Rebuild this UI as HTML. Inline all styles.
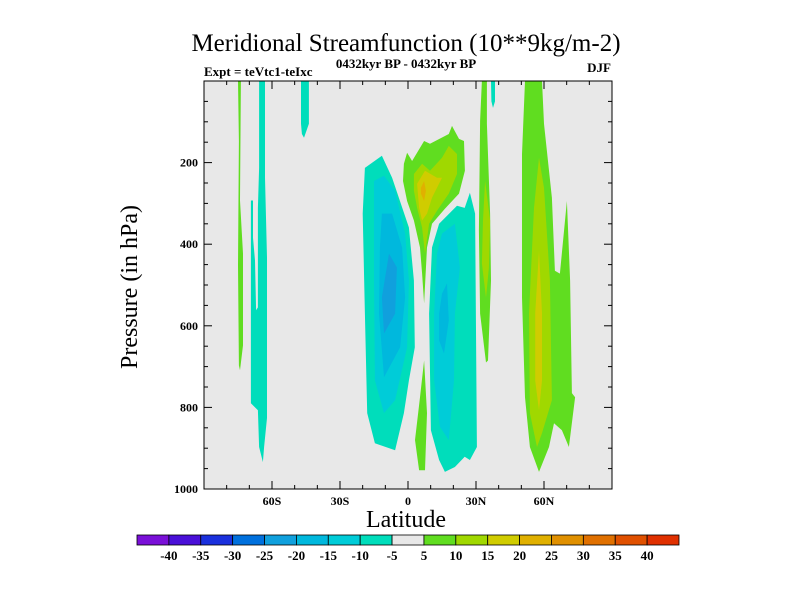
<!DOCTYPE html>
<html><head><meta charset="utf-8"><style>
body{margin:0;background:#fff}
svg{display:block}
text{font-family:"Liberation Serif",serif;fill:#000}
</style></head><body>
<svg id="chart" width="800" height="600" xmlns="http://www.w3.org/2000/svg">
<rect x="0" y="0" width="800" height="600" fill="#fff"/>
<text x="406" y="51" font-size="25" text-anchor="middle">Meridional Streamfunction (10**9kg/m-2)</text>
<text x="406" y="68" font-size="13" font-weight="bold" text-anchor="middle">0432kyr BP - 0432kyr BP</text>
<text x="204" y="76" font-size="13" font-weight="bold">Expt = teVtc1-teIxc</text>
<text x="611" y="72" font-size="13" font-weight="bold" text-anchor="end">DJF</text>
<rect x="204" y="81" width="408" height="408" fill="#e8e8e8"/>
<g id="fills"></g>
<g id="axes"></g>
<text x="406" y="527" font-size="24" text-anchor="middle">Latitude</text>
<text transform="translate(137,287) rotate(-90)" font-size="24" text-anchor="middle">Pressure (in hPa)</text>
<g id="cbar"></g>
</svg>
<script>
// contour levels / colours
const levels=[-40,-35,-30,-25,-20,-15,-10,-5,5,10,15,20,25,30,35,40];
const colors=["#7a10d8","#4a10d8","#1a30dd","#0070dd","#10a0dd","#00b8dd","#00ccd8","#00ddbb","#e8e8e8","#60dd20","#a0d800","#d0cc00","#e0b000","#e09000","#e07000","#e05000","#e03000"];
const xTickVals=[-60,-30,0,30,60];
const xTickLabels=["60S","30S","0","30N","60N"];
const yTickVals=[200,400,600,800,1000];
// contour regions: [colorIndex, [[lat,p],...]]
const regNeg5L=[[-19,213],[-11.5,183],[-7,237],[0.4,359],[2.6,489],[3,653],[0.4,734],[-1.8,814],[-5.7,905],[-14.6,888],[-18,814],[-19,570],[-20,325]];
const regNeg10L=[[-15,245],[-10.6,232],[-5.7,269],[-1.3,374],[0.4,489],[-0.4,653],[-5.7,782],[-10.6,814],[-14.6,734],[-15,489]];
const regNeg15L=[[-11.5,325],[-7,325],[-2.6,408],[-1.3,530],[-3.5,653],[-10.6,726],[-12.8,570],[-12.4,408]];
const regNeg20L=[[-8.4,423],[-4.9,457],[-5.7,570],[-10.6,619],[-11.5,530]];
const regNeg5R=[[13.7,350],[21.6,306],[25,311],[27.3,274],[29.6,325],[30.4,897],[27.3,929],[25,921],[20.7,946],[16.3,958],[13.7,929],[10.1,856],[9.3,570],[10.6,408]];
const regNeg10R=[[15,374],[20.7,350],[22.9,457],[20.7,570],[20.3,734],[18,880],[14.1,848],[11.5,734],[11.5,570],[12.8,423]];
const regNeg15R=[[15,521],[17.2,496],[18,587],[15.9,668],[13.7,636],[13.7,570]];
const regPos5T=[[-1.8,203],[-0.4,176],[1.8,196],[7.1,147],[9.7,154],[18,130],[19.4,110],[22.5,142],[24.7,147],[25.1,220],[22.5,276],[16.3,313],[10.6,350],[8.4,408],[7.1,545],[6.2,472],[5.3,408],[2.6,342],[-0.4,294],[-2.2,245]];
const regPos10T=[[2.6,228],[6.2,203],[9.7,220],[15,188],[18,159],[21.6,179],[21.6,228],[18,276],[12.8,318],[9.3,350],[7.5,423],[6.2,359],[4,311],[2.6,269]];
const regPos15T=[[4,252],[7.5,220],[12.8,237],[15,237],[10.6,286],[8.4,325],[6.2,342],[4.9,311]];
const regPos20T=[[5.7,262],[7.1,245],[7.9,269],[7.1,294],[5.7,276]];
const regPos5B=[[7.1,685],[8.4,814],[7.5,954],[4.9,954],[3.1,880],[5.3,775]];
const regPos5N30=[[32.6,0],[34.8,0],[34.8,105],[36.2,325],[36.6,489],[35.3,685],[34.4,690],[31.8,570],[31.3,367],[31.8,98]];
const regPos10N30=[[34,245],[36.2,342],[35.7,457],[34.4,531],[32.6,447],[33.1,342]];
const regNeg5N37=[[36.6,0],[38.4,0],[38.4,50],[37.5,66],[36.8,50]];
const regPos5N60=[[51.6,0],[59.1,0],[60,105],[63.5,286],[64.8,465],[67,472],[70.1,294],[71.5,489],[72.3,765],[73.7,775],[71,897],[67.9,856],[64.4,839],[62.2,897],[57.8,958],[53.8,897],[51.6,775],[50.3,531],[50.3,179]];
const regPos10N60=[[57.8,188],[60,262],[62.6,489],[63.5,782],[59.1,863],[56.9,897],[53.8,814],[53.4,570],[55.6,311]];
const regPos15N60=[[57.8,416],[59.1,570],[59.1,734],[57.8,807],[56.1,734],[56.1,570]];
const regPos5S75=[[-75,0],[-73.7,0],[-74.1,293],[-72.8,423],[-72.8,648],[-74.1,709],[-74.6,697],[-75,452],[-74.6,147]];
const regNeg5S65=[[-65.7,0],[-63.1,0],[-63.1,237],[-62.2,433],[-62.2,826],[-63.5,897],[-64,934],[-65.7,897],[-66.2,807],[-69.3,790],[-69.3,293],[-68.4,293],[-68.4,384],[-67.5,440],[-67,562],[-66.2,555],[-66.2,311],[-65.7,213]];
const regNeg5S45=[[-47.2,0],[-43.7,0],[-43.7,105],[-45.9,139],[-46.8,130],[-47.2,105]];
const regions=[[7,regNeg5L],[6,regNeg10L],[5,regNeg15L],[4,regNeg20L],[7,regNeg5R],[6,regNeg10R],[5,regNeg15R],
[9,regPos5T],[10,regPos10T],[11,regPos15T],[12,regPos20T],[9,regPos5B],[9,regPos5N30],[10,regPos10N30],[7,regNeg5N37],
[9,regPos5N60],[10,regPos10N60],[11,regPos15N60],[9,regPos5S75],[7,regNeg5S65],[7,regNeg5S45]];
const NS="http://www.w3.org/2000/svg";
const X0=204,X1=612,Y0=81,Y1=489;
function xs(lat){return X0+(lat+90)/180*(X1-X0);}
function ys(p){return Y0+p/1000*(Y1-Y0);}
function mk(tag,attrs,parent){const e=document.createElementNS(NS,tag);for(const k in attrs)e.setAttribute(k,attrs[k]);parent.appendChild(e);return e;}
const fills=document.getElementById('fills');
regions.forEach((r,i)=>{
  const pts=r[1].map(q=>xs(q[0]).toFixed(1)+","+ys(q[1]).toFixed(1)).join(" ");
  const el=mk('polygon',{points:pts,fill:colors[r[0]]},fills);
  
  
});
const ax=document.getElementById('axes');
const frame=mk('rect',{x:X0,y:Y0,width:X1-X0,height:Y1-Y0,fill:'none',stroke:'#000','stroke-width':1},ax);


for(let lat=-80;lat<=80;lat+=10){
  const x=xs(lat);const major=lat%30===0;const L=major?8:4;
  mk('line',{x1:x,y1:Y1,x2:x,y2:Y1-L,stroke:'#000'},ax);
  mk('line',{x1:x,y1:Y0,x2:x,y2:Y0+L,stroke:'#000'},ax);
}
xTickVals.forEach((v,i)=>{
  const t=mk('text',{x:xs(v),y:Y1+16,'font-size':12,'font-weight':'bold','text-anchor':'middle'},ax);
  t.textContent=xTickLabels[i];
  
  
});
for(let p=50;p<1000;p+=50){
  const y=ys(p);const major=p%200===0;const L=major?8:4;
  mk('line',{x1:X0,y1:y,x2:X0+L,y2:y,stroke:'#000'},ax);
  mk('line',{x1:X1,y1:y,x2:X1-L,y2:y,stroke:'#000'},ax);
}
yTickVals.forEach(v=>{
  const t=mk('text',{x:X0-6,y:ys(v)+4,'font-size':12,'font-weight':'bold','text-anchor':'end'},ax);
  t.textContent=String(v);
  
  
});
const cb=document.getElementById('cbar');
const CB0=137,CB1=679,CBY=535,CBH=10,bw=(CB1-CB0)/colors.length;
colors.forEach((c,i)=>{
  const r=mk('rect',{x:CB0+i*bw,y:CBY,width:bw,height:CBH,fill:c,stroke:'#000','stroke-width':0.8},cb);
  
  
});
levels.forEach((v,i)=>{
  const t=mk('text',{x:CB0+(i+1)*bw,y:CBY+CBH+15,'font-size':13,'font-weight':'bold','text-anchor':'middle'},cb);
  t.textContent=String(v);
  
  
});
</script>
</body></html>
